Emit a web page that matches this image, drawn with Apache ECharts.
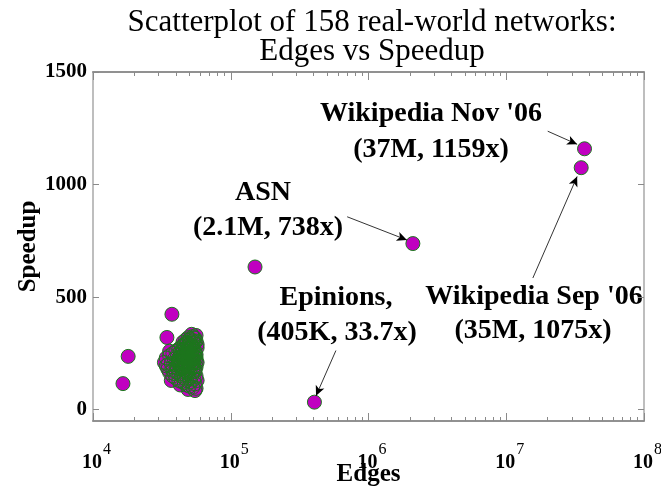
<!DOCTYPE html>
<html>
<head>
<meta charset="utf-8">
<script src="https://cdn.jsdelivr.net/npm/echarts@6/dist/echarts.min.js"></script>
<style>
html,body{margin:0;padding:0;background:#fff;}
#main{width:661px;height:487px;}
</style>
</head>
<body>
<div id="main"></div>
<script>
// ---- data ----
const titleLines = ["Scatterplot of 158 real-world networks:", "Edges vs Speedup"];
const xTicks = [1e4, 1e5, 1e6, 1e7, 1e8];
const yTicks = [0, 500, 1000, 1500];
const xMinorTicks = [2e4,3e4,4e4,5e4,6e4,7e4,8e4,9e4, 2e5,3e5,4e5,5e5,6e5,7e5,8e5,9e5,
                     2e6,3e6,4e6,5e6,6e6,7e6,8e6,9e6, 2e7,3e7,4e7,5e7,6e7,7e7,8e7,9e7];

const namedNetworks = ["Wikipedia Nov '06", "Wikipedia Sep '06", "ASN", "Epinions"];
const namedEdges    = [37e6, 35e6, 2.1e6, 405e3];
const namedSpeedup  = [1159, 1075, 738, 33.7];

// isolated networks outside the main cluster
const isolatedEdges   = [16.5e3, 18e3, 37.4e3, 34.4e3, 150e3];
const isolatedSpeedup = [116, 237, 424, 321, 634];

// main cluster (edges in thousands)
const clusterEdgesK = [
  56,54,52,55,57,53,50,48,46,44,42,40,38,36,34,33,34,35,36,38,40,42,44,46,48,50,53,56,55,57,
  56,55,56,57,56,55,54,52,50,48,46,44,42,40,38,37,39,41,43,45,47,49,51,53,50,48,46,44,45,47,
  49,51,53,52,50,48,46,44,42,40,38,41,43,47,49,51,53,54,52,50,48,46,44,42,39,37,35,36,52,54,
  45,47,49,51,43,54,55,49,
  45,47,49,51,53,55,46,48,50,52,54,56,45,47,49,51,53,55,57,44,46,48,50,52,54,56,
  43,45,47,49,51,53,55,42,44,46,48,50,52,54,56,43,45,47,49,51,53,55,50];
const clusterSpeedup = [
  330,320,335,300,290,280,310,300,290,280,270,260,250,240,230,210,195,180,165,150,140,130,125,120,110,105,100,95,115,130,
  150,170,190,210,230,250,270,260,250,240,230,220,210,200,190,205,225,245,255,265,275,285,295,305,270,260,250,240,210,200,
  190,180,170,150,140,130,140,150,160,170,175,185,195,220,230,220,210,190,200,210,170,175,180,230,160,130,200,260,240,225,
  185,155,160,125,110,135,85,90,
  300,310,320,315,325,318,285,295,290,285,295,305,270,262,268,275,265,260,275,255,245,250,258,248,240,245,
  235,228,238,242,232,228,235,218,212,205,215,222,218,212,215,195,192,188,200,195,185,180,175];

const annoText = [
  ["Wikipedia Nov '06", "(37M, 1159x)"],
  ["Wikipedia Sep '06", "(35M, 1075x)"],
  ["ASN", "(2.1M, 738x)"],
  ["Epinions,", "(405K, 33.7x)"]
];
// arrow start points (data space), arrows end near the named points
const arrowStart = [[2.0e7, 1237], [1.56e7, 585], [7.0e5, 857], [5.8e5, 263]];
const arrowEnd   = [[3.27e7, 1179], [3.27e7, 1036], [1.9e6, 754], [4.16e5, 62]];

// ---- chart ----
const FONT = "Liberation Serif";
const chart = echarts.init(document.getElementById('main'), null, {renderer: 'canvas'});

const pts = [];
clusterEdgesK.forEach((e, i) => pts.push([e * 1000, clusterSpeedup[i]]));
isolatedEdges.forEach((e, i) => pts.push([e, isolatedSpeedup[i]]));
namedEdges.forEach((e, i) => pts.push([e, namedSpeedup[i]]));

const arrowData = arrowStart.map((s, i) => [
  {coord: s, symbol: 'none'},
  {coord: arrowEnd[i], symbol: 'arrow'}
]);

const axisColor = '#8a8a8a';
const commonX = {
  type: 'log', logBase: 10, min: 1e4, max: 1e8, gridIndex: 0,
  axisLine: {show: true, onZero: false, lineStyle: {color: axisColor, width: 1.5}},
  splitLine: {show: false}, minorTick: {show: false}
};

const labelCentres = [
  [[431, 114], [431, 150]],
  [[534, 297], [533, 331]],
  [[263, 193], [268, 228]],
  [[336, 298], [337, 333]]
];
const graphics = [];
titleLines.forEach((t, j) => graphics.push({
  type: 'text', x: 372, y: 23 + j * 29,
  style: {text: t, font: '31px "' + FONT + '"', fill: '#000', align: 'center', verticalAlign: 'middle'}
}));
annoText.forEach((lines, i) => lines.forEach((t, j) => graphics.push({
  type: 'text', x: labelCentres[i][j][0], y: labelCentres[i][j][1],
  style: {text: t, font: 'bold 28px "' + FONT + '"', fill: '#000', align: 'center', verticalAlign: 'middle'}
})));

const option = {
  animation: false,
  backgroundColor: '#fff',
  grid: {left: 93, right: 17, top: 72, bottom: 66, containLabel: false, outerBoundsMode: 'none'},
  xAxis: [
    Object.assign({}, commonX, {
      position: 'bottom',
      name: 'Edges', nameLocation: 'middle', nameGap: 41, nameMoveOverlap: false,
      nameTextStyle: {fontFamily: FONT, fontSize: 25, fontWeight: 'bold', color: '#000'},
      axisTick: {show: true, inside: true, length: 8, lineStyle: {color: axisColor}},
      axisLabel: {
        show: true, margin: 21,
        formatter: v => '{b|10}{s|' + Math.round(Math.log10(v)) + '}',
        rich: {
          b: {fontFamily: FONT, fontSize: 20, fontWeight: 'bold', color: '#000', verticalAlign: 'bottom', padding: [0,0,0,7]},
          s: {fontFamily: FONT, fontSize: 16, color: '#000', verticalAlign: 'top', padding: [0,0,15,1]}
        }
      }
    }),
    Object.assign({}, commonX, {
      position: 'bottom',
      axisTick: {show: true, inside: true, length: 4, lineStyle: {color: axisColor}, customValues: xMinorTicks},
      axisLabel: {show: false, customValues: xMinorTicks}
    }),
    Object.assign({}, commonX, {
      position: 'top',
      axisTick: {show: true, inside: true, length: 8, lineStyle: {color: axisColor}},
      axisLabel: {show: false}
    }),
    Object.assign({}, commonX, {
      position: 'top',
      axisTick: {show: true, inside: true, length: 4, lineStyle: {color: axisColor}, customValues: xMinorTicks},
      axisLabel: {show: false, customValues: xMinorTicks}
    })
  ],
  yAxis: [
    {
      type: 'value', min: -50, max: 1500, position: 'left',
      name: 'Speedup', nameLocation: 'middle', nameGap: 52, nameRotate: 90, nameMoveOverlap: false,
      nameTextStyle: {fontFamily: FONT, fontSize: 25, fontWeight: 'bold', color: '#000'},
      axisLine: {show: true, onZero: false, lineStyle: {color: '#a8a8a8', width: 1.5}},
      axisTick: {show: true, inside: true, length: 6, lineStyle: {color: axisColor}, customValues: yTicks},
      axisLabel: {show: true, customValues: yTicks, margin: 6, formatter: v => String(v),
        fontFamily: FONT, fontSize: 21, fontWeight: 'bold', color: '#000'},
      splitLine: {show: false}
    },
    {
      type: 'value', min: -50, max: 1500, position: 'right',
      axisLine: {show: true, onZero: false, lineStyle: {color: '#a8a8a8', width: 1.5}},
      axisTick: {show: true, inside: true, length: 6, lineStyle: {color: axisColor}, customValues: yTicks},
      axisLabel: {show: false, customValues: yTicks},
      splitLine: {show: false}
    }
  ],
  series: [
    {
      // marker faces
      type: 'scatter', xAxisIndex: 0, yAxisIndex: 0,
      data: pts, symbol: 'circle', symbolSize: 14,
      itemStyle: {color: '#c000c0', borderWidth: 0, opacity: 1},
      markLine: {
        silent: true, animation: false,
        symbolSize: [7, 10],
        lineStyle: {color: '#000', width: 0.8, type: 'solid'},
        label: {show: false},
        data: arrowData
      }
    },
    {
      // marker edges drawn above all faces
      type: 'scatter', xAxisIndex: 0, yAxisIndex: 0,
      data: pts, symbol: 'circle', symbolSize: 14,
      itemStyle: {color: 'rgba(0,0,0,0)', borderColor: '#1c761c', borderWidth: 1, opacity: 1}
    }
  ],
  graphic: graphics
};
chart.setOption(option);
</script>
</body>
</html>
